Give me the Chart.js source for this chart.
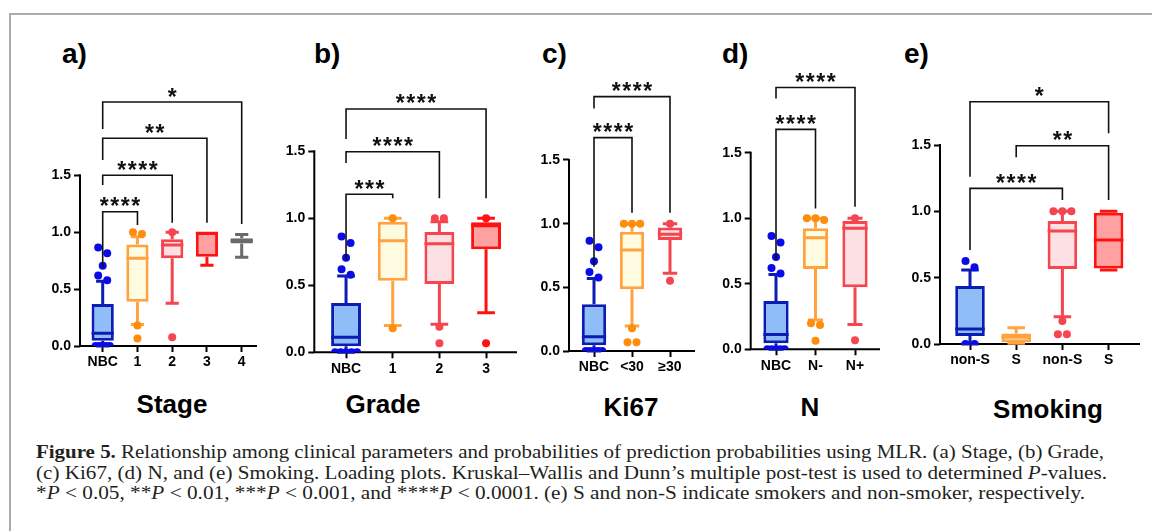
<!DOCTYPE html>
<html>
<head>
<meta charset="utf-8">
<script src="https://cdn.jsdelivr.net/npm/chart.js@4.4.1/dist/chart.umd.min.js"></script>
<style>
  html, body { margin: 0; padding: 0; background: #fff; }
  body { position: relative; width: 1152px; height: 531px; overflow: hidden; font-family: 'Liberation Sans', Arial, sans-serif; color: #000; }
  #frame { position: absolute; left: 9px; top: 13px; width: 1200px; height: 600px; border-top: 2px solid #ababab; border-left: 2px solid #ababab; }
  canvas { position: absolute; }
  .letter { position: absolute; font-weight: bold; font-size: 28px; line-height: 28px; white-space: nowrap; }
  .title { position: absolute; font-weight: bold; font-size: 26px; line-height: 26px; white-space: nowrap; transform: translateX(-50%); }
  #caption { position: absolute; left: 36px; top: 442px; font-family: 'Liberation Serif', 'Times New Roman', serif; font-size: 18px; line-height: 20.5px; color: #231f20; }
  #caption .cap-line { white-space: nowrap; transform-origin: 0 0; width: max-content; }
</style>
</head>
<body>
<div id="frame"></div>

<div class="letter" style="left:62px;top:40px">a)</div>
<div class="letter" style="left:314px;top:40px">b)</div>
<div class="letter" style="left:542px;top:40px">c)</div>
<div class="letter" style="left:722px;top:40px">d)</div>
<div class="letter" style="left:904px;top:40px">e)</div>

<div class="title" style="left:172px;top:391px">Stage</div>
<div class="title" style="left:383px;top:391px">Grade</div>
<div class="title" style="left:631px;top:394px">Ki67</div>
<div class="title" style="left:810px;top:394px">N</div>
<div class="title" style="left:1048px;top:396px">Smoking</div>

<div id="caption">
  <div class="cap-line" data-w="1068"><b>Figure 5.</b> Relationship among clinical parameters and probabilities of prediction probabilities using MLR. (a) Stage, (b) Grade,</div>
  <div class="cap-line" data-w="1071">(c) Ki67, (d) N, and (e) Smoking. Loading plots. Kruskal–Wallis and Dunn’s multiple post-test is used to determined <i>P</i>-values.</div>
  <div class="cap-line" data-w="1049">*<i>P</i> &lt; 0.05, **<i>P</i> &lt; 0.01, ***<i>P</i> &lt; 0.001, and ****<i>P</i> &lt; 0.0001. (e) S and non-S indicate smokers and non-smoker, respectively.</div>
</div>

<script>
// ---- data (box = q1 / median / q3, whiskers = low / high) ----
const Nbc_Outliers = [0, 0, 0, 0, 0, 0.578, 0.62, 0.705, 0.815, 0.865];

const Stage_Labels = ['NBC', '1', '2', '3', '4'];
const Stage_Q1 = [0.046, 0.389, 0.77, 0.785, 0.90];
const Stage_Median = [0.112, 0.77, 0.887, 0.99, 0.925];
const Stage_Q3 = [0.368, 0.893, 0.937, 1.0, 0.946];
const Stage_Low = [0, 0.19, 0.375, 0.709, 0.779];
const Stage_High = [0.57, 0.96, 1.0, 1.0, 0.98];
const Stage_Outliers = [Nbc_Outliers, [1.0, 0.984, 0.18, 0.067], [1.0, 0.076], [], []];
const Stage_Brackets = [
    { From: 0, To: 1, Level: 1.18, Left: 0.685, Right: 1.063, Stars: '****' },
    { From: 0, To: 2, Level: 1.50, Left: 1.415, Right: 1.083, Stars: '****' },
    { From: 0, To: 3, Level: 1.825, Left: 1.634, Right: 1.083, Stars: '**' },
    { From: 0, To: 4, Level: 2.144, Left: 1.907, Right: 1.072, Stars: '*' }
];

const Grade_Labels = ['NBC', '1', '2', '3'];
const Grade_Q1 = [0.046, 0.534, 0.51, 0.769];
const Grade_Median = [0.112, 0.833, 0.81, 0.945];
const Grade_Q3 = [0.368, 0.975, 0.898, 0.97];
const Grade_Low = [0, 0.2, 0.209, 0.296];
const Grade_High = [0.57, 1.0, 0.975, 1.0];
const Grade_Outliers = [Nbc_Outliers, [1.0, 0.179], [1.0, 1.0, 0.19, 0.067], [1.0, 0.067]];
const Grade_Brackets = [
    { From: 0, To: 1, Level: 1.179, Left: 0.69, Right: 1.15, Stars: '***' },
    { From: 0, To: 2, Level: 1.497, Left: 1.413, Right: 1.15, Stars: '****' },
    { From: 0, To: 3, Level: 1.816, Left: 1.592, Right: 1.15, Stars: '****' }
];

const Ki67_Labels = ['NBC', '<30', '≥30'];
const Ki67_Q1 = [0.046, 0.485, 0.872];
const Ki67_Median = [0.112, 0.793, 0.917];
const Ki67_Q3 = [0.368, 0.937, 0.969];
const Ki67_Low = [0, 0.196, 0.61];
const Ki67_High = [0.57, 1.0, 1.0];
const Ki67_Outliers = [Nbc_Outliers, [1.0, 1.0, 1.0, 0.178, 0.068, 0.068], [1.0, 0.552]];
const Ki67_Brackets = [
    { From: 0, To: 1, Level: 1.676, Left: 0.662, Right: 1.086, Stars: '****' },
    { From: 0, To: 2, Level: 1.998, Left: 1.904, Right: 1.086, Stars: '****' }
];

const N_Labels = ['NBC', 'N-', 'N+'];
const N_Q1 = [0.046, 0.612, 0.473];
const N_Median = [0.112, 0.851, 0.923];
const N_Q3 = [0.368, 0.923, 0.979];
const N_Low = [0, 0.223, 0.19];
const N_High = [0.57, 1.0, 1.0];
const N_Outliers = [Nbc_Outliers, [1.0, 0.986, 1.0, 0.198, 0.185, 0.066], [1.0, 0.07]];
const N_Brackets = [
    { From: 0, To: 1, Level: 1.678, Left: 0.681, Right: 1.075, Stars: '****' },
    { From: 0, To: 2, Level: 1.998, Left: 1.914, Right: 1.088, Stars: '****' }
];

const Smoking_Labels = ['non-S', 'S', 'non-S', 'S'];
const Smoking_Q1 = [0.06, 0.013, 0.565, 0.57];
const Smoking_Median = [0.113, 0.05, 0.851, 0.784];
const Smoking_Q3 = [0.437, 0.08, 0.927, 0.99];
const Smoking_Low = [0, 0.005, 0.206, 0.558];
const Smoking_High = [0.558, 0.123, 1.0, 1.0];
const Smoking_Outliers = [[0.625, 0.578, 0, 0], [], [1.0, 1.0, 1.0, 0.173, 0.073, 0.073], []];
const Smoking_Brackets = [
    { From: 0, To: 2, Level: 1.173, Left: 0.708, Right: 1.085, Stars: '****' },
    { From: 1, To: 3, Level: 1.494, Left: 1.407, Right: 1.085, Stars: '**' },
    { From: 0, To: 3, Level: 1.826, Left: 1.261, Right: 1.588, Stars: '*' }
];

// ---- styles ----
const Blue = { Border: '#0c1db4', Fill: '#8fbdf7', Dot: '#0b0bea' };
const Orange = { Border: '#ffa341', Fill: '#fffbe0', Dot: '#ff8c0a' };
const Pink = { Border: '#f5454e', Fill: '#fde0e3', Dot: '#f5454e' };
const Red = { Border: '#ff1212', Fill: '#ffa1a1', Dot: '#ff1212' };
const Grey = { Border: '#6a6a6a', Fill: '#8a8a8a', Dot: '#6a6a6a' };

Chart.defaults.font.family = "'Liberation Sans', Arial, sans-serif";

function Spread_Points(Values, Step_Px, Max_Px) {
    const Sorted = [...Values].sort((A, B) => B - A);
    const Out = [];
    let Cluster = [];
    const Flush = () => {
        const K = Cluster.length;
        const Step = K > 1 ? Math.min(Step_Px, Max_Px / (K - 1)) : 0;
        Cluster.forEach((V, J) => Out.push({ Value: V, Dx: (J - (K - 1) / 2) * Step }));
        Cluster = [];
    };
    Sorted.forEach(V => {
        if (Cluster.length && Cluster[Cluster.length - 1] - V > 0.055) Flush();
        Cluster.push(V);
    });
    Flush();
    return Out;
}

function Draw_Stars(Ctx, Text, Cx, Cy) {
    Ctx.font = "bold 23px 'Liberation Sans', Arial, sans-serif";
    Ctx.textAlign = 'center';
    Ctx.textBaseline = 'alphabetic';
    Ctx.fillStyle = '#111';
    const M = Ctx.measureText('*');
    const Base = Cy + (M.actualBoundingBoxAscent - M.actualBoundingBoxDescent) / 2;
    for (let K = 0; K < Text.length; K++) {
        Ctx.fillText('*', Cx + (K - (Text.length - 1) / 2) * 10.5, Base);
    }
}

function Make_Panel(P) {
    const L = P.Layout;
    const Ppu = (L.Y0 - L.Y15) / 1.5;
    const Chart_Top = 40, Pad_Top = 16;
    const Canvas_Left = Math.round(L.Axis_X - 42);
    const Canvas_Top = Chart_Top - Pad_Top;
    const Canvas_W = Math.round(L.Axis_End - Canvas_Left + 4);
    const Canvas_H = Math.round(L.Y0 + 34 - Canvas_Top);
    const Y_Max = (L.Y0 - Chart_Top) / Ppu;
    const X_Min = -(L.First - L.Axis_X) / L.Spacing;
    const X_Max = X_Min + (L.Axis_End - L.Axis_X) / L.Spacing;
    const Box_Px = L.Spacing * 0.64;
    const Cap_Px = L.Spacing * 0.38;

    const Canvas = document.createElement('canvas');
    Canvas.width = Canvas_W;
    Canvas.height = Canvas_H;
    Canvas.style.left = Canvas_Left + 'px';
    Canvas.style.top = Canvas_Top + 'px';
    document.body.appendChild(Canvas);

    const Points = [];
    const Point_Colors = [];
    P.Outliers.forEach((Group, I) => {
        Spread_Points(Group, 9, Box_Px - 8).forEach(Pt => {
            Points.push({ x: I + Pt.Dx / L.Spacing, y: Pt.Value });
            Point_Colors.push(P.Palette[I].Dot);
        });
    });

    const Box_Plugin = {
        id: 'box_' + P.Id,
        beforeDatasetsDraw(Chart_Obj) {
            const { ctx: Ctx, scales: { x: Xs, y: Ys } } = Chart_Obj;
            Ctx.save();
            Ctx.strokeStyle = '#000';
            Ctx.lineWidth = 2;
            Ctx.beginPath();
            Ctx.moveTo(Xs.getPixelForValue(X_Min), Ys.getPixelForValue(1.5) - 1);
            Ctx.lineTo(Xs.getPixelForValue(X_Min), Ys.getPixelForValue(0));
            Ctx.moveTo(Xs.getPixelForValue(X_Min) - 1, Ys.getPixelForValue(0));
            Ctx.lineTo(Xs.getPixelForValue(X_Max), Ys.getPixelForValue(0));
            Ctx.stroke();
            Ctx.restore();
        },
        beforeDatasetDraw(Chart_Obj, Args) {
            if (Args.index !== 0) return;
            const { ctx: Ctx, scales: { x: Xs, y: Ys } } = Chart_Obj;
            Ctx.save();
            Ctx.lineWidth = 3;
            P.Labels.forEach((_, I) => {
                const X = Xs.getPixelForValue(I);
                Ctx.strokeStyle = P.Palette[I].Border;
                Ctx.beginPath();
                [[P.Q3[I], P.High[I]], [P.Q1[I], P.Low[I]]].forEach(([From, To]) => {
                    if (Math.abs(From - To) < 0.004) return;
                    Ctx.moveTo(X, Ys.getPixelForValue(From));
                    Ctx.lineTo(X, Ys.getPixelForValue(To));
                    Ctx.moveTo(X - Cap_Px / 2, Ys.getPixelForValue(To));
                    Ctx.lineTo(X + Cap_Px / 2, Ys.getPixelForValue(To));
                });
                Ctx.moveTo(X - Box_Px / 2, Ys.getPixelForValue(P.Median[I]));
                Ctx.lineTo(X + Box_Px / 2, Ys.getPixelForValue(P.Median[I]));
                Ctx.stroke();
            });
            Ctx.restore();
        },
        afterDraw(Chart_Obj) {
            const { ctx: Ctx, scales: { x: Xs, y: Ys } } = Chart_Obj;
            Ctx.save();
            Ctx.strokeStyle = '#111';
            Ctx.lineWidth = 1.6;
            P.Brackets.forEach(B => {
                const X1 = Xs.getPixelForValue(B.From), X2 = Xs.getPixelForValue(B.To);
                const Y = Ys.getPixelForValue(B.Level);
                Ctx.beginPath();
                Ctx.moveTo(X1, Ys.getPixelForValue(B.Left));
                Ctx.lineTo(X1, Y);
                Ctx.lineTo(X2, Y);
                Ctx.lineTo(X2, Ys.getPixelForValue(B.Right));
                Ctx.stroke();
                Draw_Stars(Ctx, B.Stars, (X1 + X2) / 2, Y - 10);
            });
            Ctx.restore();
        }
    };

    const Tick_Font = { size: 14, weight: 'bold' };

    new Chart(Canvas, {
        type: 'scatter',
        data: {
            datasets: [
                {
                    type: 'scatter',
                    data: Points,
                    pointRadius: 4,
                    pointBorderWidth: 0,
                    pointBackgroundColor: Point_Colors
                },
                {
                    type: 'bar',
                    data: P.Labels.map((_, I) => ({ x: I, y: [P.Q1[I], P.Q3[I]] })),
                    backgroundColor: P.Palette.map(C => C.Fill),
                    borderColor: P.Palette.map(C => C.Border),
                    borderWidth: 3,
                    borderSkipped: false,
                    barPercentage: 1,
                    categoryPercentage: 0.64
                }
            ]
        },
        options: {
            responsive: false,
            animation: false,
            devicePixelRatio: 1,
            events: [],
            layout: { padding: { top: Pad_Top, right: 4, left: 0, bottom: 0 } },
            plugins: { legend: { display: false }, tooltip: { enabled: false } },
            scales: {
                x: {
                    type: 'linear',
                    min: X_Min,
                    max: X_Max,
                    offset: false,
                    border: { display: false },
                    grid: { offset: false, drawOnChartArea: false, drawTicks: true, tickLength: 6, tickWidth: 2, tickColor: '#000' },
                    ticks: { autoSkip: false, maxRotation: 0, minRotation: 0, padding: 2, color: '#000', font: Tick_Font,
                        callback: V => P.Labels[Math.round(V)] ?? '' },
                    afterBuildTicks: S => { S.ticks = P.Labels.map((_, I) => ({ value: I })); },
                    afterFit: S => { S.height = Canvas_H - (L.Y0 - Canvas_Top); }
                },
                y: {
                    type: 'linear',
                    min: 0,
                    max: Y_Max,
                    border: { display: false },
                    grid: { drawOnChartArea: false, drawTicks: true, tickLength: 6, tickWidth: 2, tickColor: '#000' },
                    ticks: { padding: 3, color: '#000', font: Tick_Font, callback: V => V.toFixed(1) },
                    afterBuildTicks: S => { S.ticks = [0, 0.5, 1, 1.5].map(V => ({ value: V })); },
                    afterFit: S => { S.width = L.Axis_X - Canvas_Left; }
                }
            }
        },
        plugins: [Box_Plugin]
    });
}

const Panels = [
    { Id: 'a', Labels: Stage_Labels, Q1: Stage_Q1, Median: Stage_Median, Q3: Stage_Q3, Low: Stage_Low, High: Stage_High,
      Outliers: Stage_Outliers, Brackets: Stage_Brackets, Palette: [Blue, Orange, Pink, Red, Grey],
      Layout: { Axis_X: 80, Axis_End: 257, Y0: 346, Y15: 175.3, First: 102.7, Spacing: 34.75 } },
    { Id: 'b', Labels: Grade_Labels, Q1: Grade_Q1, Median: Grade_Median, Q3: Grade_Q3, Low: Grade_Low, High: Grade_High,
      Outliers: Grade_Outliers, Brackets: Grade_Brackets, Palette: [Blue, Orange, Pink, Red],
      Layout: { Axis_X: 314.3, Axis_End: 516.7, Y0: 352.3, Y15: 151.3, First: 346, Spacing: 46.6 } },
    { Id: 'c', Labels: Ki67_Labels, Q1: Ki67_Q1, Median: Ki67_Median, Q3: Ki67_Q3, Low: Ki67_Low, High: Ki67_High,
      Outliers: Ki67_Outliers, Brackets: Ki67_Brackets, Palette: [Blue, Orange, Pink],
      Layout: { Axis_X: 569, Axis_End: 695, Y0: 351, Y15: 160, First: 594, Spacing: 38 } },
    { Id: 'd', Labels: N_Labels, Q1: N_Q1, Median: N_Median, Q3: N_Q3, Low: N_Low, High: N_High,
      Outliers: N_Outliers, Brackets: N_Brackets, Palette: [Blue, Orange, Pink],
      Layout: { Axis_X: 750.7, Axis_End: 880, Y0: 349.3, Y15: 152.7, First: 776, Spacing: 39.5 } },
    { Id: 'e', Labels: Smoking_Labels, Q1: Smoking_Q1, Median: Smoking_Median, Q3: Smoking_Q3, Low: Smoking_Low, High: Smoking_High,
      Outliers: Smoking_Outliers, Brackets: Smoking_Brackets, Palette: [Blue, Orange, Pink, Red],
      Layout: { Axis_X: 940, Axis_End: 1140, Y0: 344, Y15: 145, First: 970, Spacing: 46.2 } }
];

Panels.forEach(Make_Panel);

// stretch each caption line to the measured width of the original
document.querySelectorAll('.cap-line').forEach(Line => {
    const Target = parseFloat(Line.dataset.w);
    const Natural = Line.getBoundingClientRect().width;
    Line.style.transform = `scaleX(${Target / Natural})`;
});
</script>
</body>
</html>
